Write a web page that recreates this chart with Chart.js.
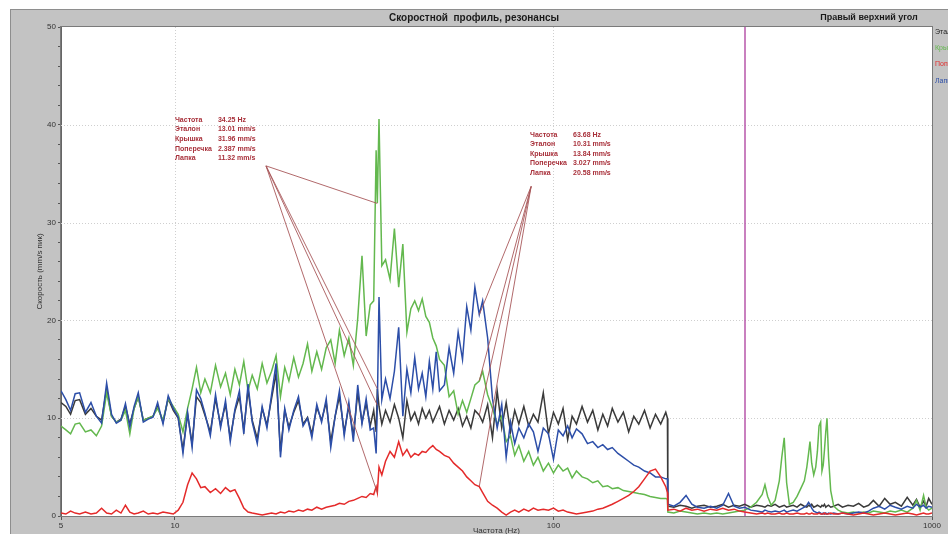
<!DOCTYPE html>
<html>
<head>
<meta charset="utf-8">
<script src="https://cdn.jsdelivr.net/npm/chart.js@4.4.0/dist/chart.umd.min.js"></script>
<style>
html, body { margin: 0; padding: 0; background: #fff; }
#wrap { width: 948px; height: 534px; }
</style>
</head>
<body>
<div id="wrap"><canvas id="chart" width="948" height="534"></canvas></div>
<script>
// Frequency grid (Hz), shared by all four series
const freqs = [
  5.0, 5.15, 5.3, 5.45, 5.6, 5.8, 6.0, 6.2, 6.4, 6.6,
  6.8, 7.0, 7.2, 7.4, 7.6, 7.8, 8.0, 8.25, 8.5, 8.75,
  9.0, 9.3, 9.6, 9.9, 10.2, 10.5, 10.8, 11.1, 11.4, 11.7,
  12.0, 12.4, 12.8, 13.2, 13.6, 14.0, 14.4, 14.8, 15.2, 15.6,
  16.0, 16.5, 17.0, 17.5, 18.0, 18.5, 19.0, 19.5, 20.0, 20.6,
  21.2, 21.8, 22.4, 23.0, 23.7, 24.4, 25.1, 25.8, 26.5, 27.2,
  28.0, 28.8, 29.6, 30.4, 31.2, 32.0, 32.8, 33.5, 34.0, 34.25,
  34.6, 35.2, 36.0, 37.0, 38.0, 39.0, 40.0, 41.0, 42.0, 43.0,
  44.0, 45.0, 46.0, 47.0, 48.0, 49.0, 50.0, 51.5, 53.0, 54.5,
  56.0, 57.5, 59.0, 60.5, 62.0, 63.68, 65.0, 67.0, 69.0, 71.0,
  73.0, 75.0, 77.0, 79.0, 81.0, 83.5, 86.0, 88.5, 91.0, 94.0,
  97.0, 100, 103, 106, 109, 112, 115, 119, 123, 127,
  131, 135, 139, 143, 148, 153, 158, 163, 168, 174,
  180, 186, 192, 198, 200, 200.5, 208, 216, 224, 232,
  240, 250, 260, 270, 280, 290, 300, 310, 320, 332,
  344, 356, 362, 368, 376, 385, 395, 401, 407, 413,
  420, 430, 440, 450, 460, 467, 472, 476, 481, 487,
  493, 498, 503, 508, 512, 516, 520, 524, 528, 533,
  540, 550, 565, 580, 600, 620, 640, 660, 680, 700,
  725, 750, 775, 800, 830, 860, 890, 910, 930, 950,
  965, 980, 1000
];

// Эталон (mm/s)
const etalon = [
  11.6, 11.2, 10.4, 11.8, 11.9, 10.4, 11.0, 10.2, 9.8, 13.0,
  10.2, 9.6, 9.9, 11.2, 9.4, 11.0, 12.2, 9.8, 10.0, 10.2,
  11.2, 9.6, 12.0, 10.8, 10.0, 6.8, 10.4, 7.4, 12.2, 11.6,
  10.3, 8.6, 12.0, 9.3, 11.4, 8.0, 10.7, 12.2, 8.8, 12.9,
  9.8, 7.9, 11.0, 9.3, 12.0, 14.6, 6.6, 10.8, 9.1, 10.6,
  11.8, 9.4, 10.1, 8.4, 11.1, 9.8, 11.6, 7.6, 10.2, 12.2,
  8.6, 11.2, 8.2, 12.6, 9.6, 11.5, 9.2, 10.8, 8.6, 13.0,
  11.2, 9.4, 10.8, 9.6, 11.4, 10.0, 8.0, 11.8, 9.8, 10.6,
  9.4, 11.0, 10.0, 10.8, 9.6, 10.4, 11.2, 9.4, 10.8, 9.8,
  11.0, 9.2, 10.2, 9.0, 10.8, 10.3, 9.6, 11.4, 8.0, 12.8,
  9.0, 11.6, 8.6, 10.8, 9.4, 11.2, 9.2, 10.4, 9.6, 12.6,
  8.4, 10.6, 9.4, 11.0, 7.8, 10.2, 9.4, 11.2, 9.6, 10.8,
  8.8, 10.4, 9.2, 11.0, 9.6, 10.6, 8.6, 10.2, 9.4, 10.8,
  9.0, 10.4, 9.4, 10.6, 10.0, 1.0, 0.9, 1.1, 1.0, 0.8,
  1.0, 1.1, 0.9, 1.0, 1.2, 0.9, 1.1, 1.0, 1.2, 0.9,
  1.1, 1.0, 0.9, 1.1, 1.0, 1.2, 0.9, 1.0, 1.1, 0.9,
  1.0, 1.1, 0.9, 1.2, 1.0, 0.9, 1.1, 1.0, 1.2, 0.9,
  1.0, 1.1, 1.0, 0.9, 1.1, 1.0, 1.2, 0.9, 1.0, 1.1,
  0.9, 1.0, 1.2, 0.9, 1.1, 1.0, 1.3, 0.9, 1.1, 1.6,
  1.0, 1.8, 1.2, 1.4, 1.0, 1.9, 1.1, 1.7, 0.9, 1.5,
  1.0, 1.8, 1.2
];

// Крышка (mm/s)
const kryshka = [
  9.2, 8.8, 8.4, 9.4, 9.5, 8.6, 8.8, 8.2, 9.2, 12.6,
  10.2, 9.6, 9.8, 10.8, 8.4, 11.0, 12.2, 9.8, 10.0, 10.2,
  11.0, 9.8, 12.0, 11.2, 10.4, 8.6, 11.0, 13.0, 15.2, 12.6,
  14.0, 12.6, 15.4, 13.2, 14.6, 12.4, 15.0, 13.4, 15.8, 12.8,
  14.4, 13.0, 15.6, 13.6, 14.8, 16.4, 12.2, 15.2, 13.8, 16.2,
  14.2, 15.6, 17.6, 14.8, 16.8, 15.0, 17.2, 18.0, 15.6, 19.0,
  16.4, 18.2, 15.4, 20.2, 26.6, 18.4, 21.6, 22.0, 37.4, 32.0,
  40.6, 25.6, 26.2, 24.2, 29.4, 23.4, 27.8, 18.8, 21.2, 22.0,
  21.0, 22.2, 20.4, 19.8, 18.2, 17.4, 16.0, 15.4, 12.2, 12.8,
  10.4, 11.8, 10.6, 12.0, 13.4, 13.8, 14.8, 12.4, 11.0, 9.4,
  10.2, 7.6, 8.2, 6.2, 7.2, 5.6, 6.6, 5.2, 6.0, 4.6,
  5.4, 4.4, 5.2, 4.6, 4.9, 3.9, 4.6, 4.0, 3.8, 3.4,
  3.6, 3.0, 3.1, 2.8, 2.9, 2.6, 2.5, 2.4, 2.3, 2.2,
  2.0, 1.9, 1.8, 1.8, 1.7, 0.4, 0.3, 0.5, 0.4, 0.3,
  0.2, 0.3, 0.2, 0.3, 0.2, 0.3, 0.4, 0.5, 0.6, 0.9,
  1.4, 2.2, 3.2, 2.0, 1.1, 1.6, 3.6, 6.0, 8.0, 3.4,
  1.2, 1.4, 2.0, 2.8, 3.6, 5.0, 6.4, 7.6, 5.4, 4.2,
  5.0, 6.6, 9.2, 9.6, 4.6, 5.2, 6.8, 8.6, 10.0, 6.0,
  2.6, 1.0, 0.6, 0.4, 0.3, 0.4, 0.3, 0.4, 0.3, 0.5,
  0.4, 0.3, 0.5, 0.4, 0.6, 0.4, 0.8, 1.6, 0.6, 2.1,
  0.9, 0.6, 0.8
];

// Поперечка (mm/s)
const poperechka = [
  0.3, 0.2, 0.5, 0.3, 0.2, 0.4, 0.2, 0.3, 0.8, 0.3,
  0.2, 0.6, 0.3, 1.1, 0.4, 0.2, 0.3, 0.5, 0.2, 0.3,
  0.2, 0.4, 0.3, 0.2, 0.6, 1.4, 3.2, 4.4, 3.8, 2.9,
  3.0, 2.4, 2.8, 2.3, 2.9, 2.5, 2.7, 1.8, 0.8, 0.4,
  0.3, 0.2, 0.1, 0.2, 0.3, 0.2, 0.4, 0.3, 0.5, 0.4,
  0.6, 0.5, 0.7, 0.6, 0.9, 0.7, 0.9, 1.0, 1.1, 1.3,
  1.2, 1.5, 1.6, 1.8, 2.0, 1.9, 2.3, 2.2, 3.0, 2.4,
  5.0, 4.2, 5.6, 6.6, 6.0, 7.6, 6.2, 6.8, 6.0, 6.4,
  6.2, 6.6, 6.5, 6.9, 7.2, 6.8, 6.6, 6.2, 6.0, 5.4,
  5.0, 4.6, 4.0, 3.6, 3.2, 3.0, 2.4, 1.5, 1.1, 0.8,
  0.4, 0.1, 0.4, 0.6, 0.4, 0.7, 0.5, 0.8, 0.6, 0.7,
  0.6, 0.8, 0.5, 0.6, 0.4, 0.3, 0.2, 0.3, 0.4, 0.5,
  0.7, 0.8, 1.0, 1.2, 1.5, 1.8, 2.1, 2.5, 3.0, 3.8,
  4.6, 4.8, 4.0, 3.0, 2.4, 0.6, 0.7, 0.5, 0.8, 0.6,
  0.7, 0.5, 0.7, 0.6, 0.8, 0.6, 0.7, 0.5, 0.4, 0.3,
  0.2, 0.3, 0.2, 0.3, 0.2, 0.2, 0.3, 0.2, 0.2, 0.3,
  0.2, 0.2, 0.3, 0.2, 0.2, 0.3, 0.2, 0.2, 0.3, 0.2,
  0.2, 0.2, 0.3, 0.2, 0.2, 0.2, 0.3, 0.2, 0.2, 0.2,
  0.3, 0.2, 0.2, 0.3, 0.2, 0.1, 0.2, 0.3, 0.2, 0.1,
  0.2, 0.3, 0.2, 0.1, 0.2, 0.3, 0.2, 0.1, 0.2, 0.3,
  0.2, 0.2, 0.3
];

// Лапка (mm/s)
const lapka = [
  12.8, 11.9, 10.8, 12.5, 12.6, 10.6, 11.6, 10.2, 9.5, 13.6,
  10.4, 9.5, 9.8, 11.5, 9.1, 11.2, 12.6, 9.6, 9.9, 10.1,
  11.6, 9.4, 12.3, 11.0, 10.1, 6.4, 10.6, 7.0, 12.9, 12.0,
  10.5, 8.2, 12.4, 9.0, 11.8, 7.6, 10.9, 12.8, 8.4, 13.5,
  9.6, 7.4, 11.2, 9.0, 12.4, 15.6, 6.0, 11.0, 8.8, 10.8,
  12.2, 9.2, 10.0, 8.0, 11.4, 9.6, 12.0, 7.0, 10.2, 12.8,
  8.2, 11.6, 7.6, 13.4, 9.4, 12.0, 8.8, 9.0, 6.4, 11.3,
  22.4, 11.9, 14.0, 12.0, 14.8, 19.3, 10.2, 15.0, 12.6, 16.2,
  13.0, 14.6, 12.2, 15.8, 13.0, 16.8, 12.8, 13.4, 17.2, 14.6,
  18.8, 16.0, 21.4, 19.0, 23.4, 20.6, 22.0, 18.2, 12.0, 9.0,
  11.4, 6.0, 9.6, 7.4, 9.0, 8.0, 9.4, 8.6, 6.6, 9.0,
  8.4, 5.8, 8.8, 8.2, 9.2, 8.0, 8.9, 8.4, 7.4, 7.6,
  7.0, 7.3, 6.8, 7.0, 6.4, 6.0, 5.6, 5.2, 5.0, 4.6,
  4.4, 4.0, 4.0, 3.8, 3.8, 1.2, 1.0, 1.4, 2.1, 1.2,
  0.9, 0.8, 1.0, 0.8, 1.1, 2.3, 1.0, 0.8, 0.9, 0.6,
  0.5, 0.4, 0.6, 0.5, 0.4, 0.5, 0.4, 0.5, 0.6, 0.4,
  0.5, 0.6, 0.5, 0.7, 0.9, 1.1, 1.4, 1.2, 0.8, 0.5,
  0.4, 0.3, 0.4, 0.3, 0.2, 0.3, 0.2, 0.3, 0.2, 0.3,
  0.2, 0.3, 0.2, 0.3, 0.2, 0.3, 0.4, 0.3, 0.5, 0.8,
  1.0, 0.7, 1.1, 0.9, 0.7, 1.0, 0.8, 1.2, 0.9, 1.1,
  0.8, 1.0, 0.9
];

const seriesNames = ['Эталон', 'Крышка', 'Поперечка', 'Лапка'];
const seriesColors = ['#3a3a3a', '#63b84e', '#e42a2a', '#2c4ea8'];
const xTickValues = [5, 10, 100, 1000];
const yTickValues = [0, 2, 4, 6, 8, 10, 12, 14, 16, 18, 20, 22, 24, 26, 28, 30, 32, 34, 36, 38, 40, 42, 44, 46, 48, 50];
const markerFreq = 320;

// cursor readouts
const cursor1Freq = 34.25;
const cursor1Values = [13.01, 31.96, 2.387, 11.32];
const cursor2Freq = 63.68;
const cursor2Values = [10.31, 13.84, 3.027, 20.58];

const FONT = '"Liberation Sans", Arial, sans-serif';

function drawCursor(chart, freq, values, boxX, boxY, origin) {
    const ctx = chart.ctx;
    const xs = chart.scales.x, ys = chart.scales.y;
    const ox = xs.getPixelForValue(origin[0]);
    const oy = ys.getPixelForValue(origin[1]);
    const px = xs.getPixelForValue(freq);

    ctx.save();
    ctx.strokeStyle = '#a8585a';
    ctx.lineWidth = 0.9;
    values.forEach(v => {
        ctx.beginPath();
        ctx.moveTo(ox, oy);
        ctx.lineTo(px, ys.getPixelForValue(v));
        ctx.stroke();
    });

    const bx = xs.getPixelForValue(boxX);
    const by = ys.getPixelForValue(boxY);
    ctx.fillStyle = '#a8303a';
    ctx.font = 'bold 7px ' + FONT;
    ctx.textBaseline = 'middle';
    const labels = ['Частота'].concat(seriesNames);
    const texts = [freq.toFixed(2) + ' Hz'].concat(values.map(v => v.toPrecision(4) + ' mm/s'));
    labels.forEach((l, i) => {
        const y = by + i * 9.6;
        ctx.fillText(l, bx, y);
        ctx.fillText(texts[i], bx + 43, y);
    });
    ctx.restore();
}

const decorPlugin = {
    id: 'decor',
    beforeDraw(chart) {
        const { ctx, chartArea: a } = chart;
        ctx.save();
        ctx.fillStyle = '#ffffff';
        ctx.fillRect(0, 0, chart.width, chart.height);
        ctx.fillStyle = '#c3c3c3';
        ctx.fillRect(10, 9, chart.width - 10, chart.height - 9);
        ctx.strokeStyle = '#8e8e8e';
        ctx.lineWidth = 1;
        ctx.strokeRect(10.5, 9.5, chart.width - 10, chart.height - 9);
        ctx.fillStyle = '#ffffff';
        ctx.fillRect(a.left, a.top, a.right - a.left, a.bottom - a.top);
        ctx.restore();
    },
    beforeDatasetsDraw(chart) {
        const { ctx, chartArea: a } = chart;
        const xs = chart.scales.x, ys = chart.scales.y;
        ctx.save();
        ctx.strokeStyle = '#cfcfcf';
        ctx.lineWidth = 1;
        ctx.setLineDash([1, 2]);
        [10, 100].forEach(v => {
            const x = Math.round(xs.getPixelForValue(v)) + 0.5;
            ctx.beginPath(); ctx.moveTo(x, a.top); ctx.lineTo(x, a.bottom); ctx.stroke();
        });
        [10, 20, 30, 40].forEach(v => {
            const y = Math.round(ys.getPixelForValue(v)) + 0.5;
            ctx.beginPath(); ctx.moveTo(a.left, y); ctx.lineTo(a.right, y); ctx.stroke();
        });
        ctx.setLineDash([]);
        // marker line
        const mx = Math.round(xs.getPixelForValue(markerFreq));
        ctx.strokeStyle = '#b24aa4';
        ctx.lineWidth = 1.4;
        ctx.beginPath(); ctx.moveTo(mx, a.top); ctx.lineTo(mx, a.bottom); ctx.stroke();
        ctx.restore();
    },
    afterDatasetsDraw(chart) {
        const { ctx, chartArea: a } = chart;
        drawCursor(chart, cursor1Freq, cursor1Values, 10, 40.5, [17.4, 35.8]);
        drawCursor(chart, cursor2Freq, cursor2Values, 86.7, 39.0, [87.3, 33.7]);
        ctx.save();
        ctx.strokeStyle = '#7a7a7a';
        ctx.lineWidth = 1;
        ctx.strokeRect(a.left - 0.5, a.top - 0.5, a.right - a.left + 1, a.bottom - a.top + 1);
        ctx.restore();
    },
    afterDraw(chart) {
        const { ctx, chartArea: a } = chart;
        ctx.save();
        ctx.fillStyle = '#1a1a1a';
        ctx.textBaseline = 'middle';
        ctx.font = 'bold 10px ' + FONT;
        ctx.textAlign = 'center';
        ctx.fillText('Скоростной  профиль, резонансы', 474, 18);
        ctx.font = 'bold 9px ' + FONT;
        ctx.fillText('Правый верхний угол', 869, 18);

        ctx.font = '8px ' + FONT;
        ctx.fillStyle = '#333';
        ctx.fillText('Частота (Hz)', (a.left + a.right) / 2, 531);
        ctx.save();
        ctx.translate(40, (a.top + a.bottom) / 2);
        ctx.rotate(-Math.PI / 2);
        ctx.fillText('Скорость (mm/s пик)', 0, 0);
        ctx.restore();

        // side legend (cut off by the window edge)
        ctx.textAlign = 'left';
        ctx.font = '7px ' + FONT;
        const legendY = [32, 48, 64, 81];
        const legendColors = ['#222', seriesColors[1], seriesColors[2], seriesColors[3]];
        seriesNames.forEach((n, i) => {
            ctx.fillStyle = legendColors[i];
            ctx.fillText(n, 935, legendY[i]);
        });
        ctx.restore();
    }
};

const seriesData = [etalon, kryshka, poperechka, lapka];
const drawOrder = [3, 2, 0, 1];

new Chart(document.getElementById('chart'), {
    type: 'line',
    data: {
        datasets: seriesData.map((vals, i) => ({
            label: seriesNames[i],
            data: freqs.map((f, j) => ({ x: f, y: vals[j] })),
            borderColor: seriesColors[i],
            borderWidth: 1.5,
            pointRadius: 0,
            tension: 0,
            fill: false,
            order: drawOrder[i]
        }))
    },
    options: {
        responsive: false,
        animation: false,
        devicePixelRatio: 1,
        layout: { padding: { top: 27, right: 16, bottom: 0, left: 0 } },
        plugins: {
            legend: { display: false },
            tooltip: { enabled: false }
        },
        scales: {
            x: {
                type: 'logarithmic',
                min: 5,
                max: 1000,
                afterBuildTicks(scale) {
                    scale.ticks = xTickValues.map(v => ({ value: v }));
                },
                afterFit(scale) { scale.height = 18; },
                ticks: {
                    autoSkip: false,
                    maxRotation: 0,
                    padding: 1,
                    color: '#333',
                    font: { family: FONT, size: 8 },
                    callback: v => String(v)
                },
                grid: { drawOnChartArea: false, drawTicks: true, tickLength: 4, tickColor: '#555' },
                border: { display: true, color: '#666' }
            },
            y: {
                min: 0,
                max: 50,
                afterBuildTicks(scale) {
                    scale.ticks = yTickValues.map(v => ({ value: v }));
                },
                afterFit(scale) { scale.width = 61; },
                ticks: {
                    autoSkip: false,
                    padding: 2,
                    color: '#333',
                    font: { family: FONT, size: 8 },
                    callback: v => (v % 10 === 0 ? String(v) : '')
                },
                grid: {
                    drawOnChartArea: false,
                    drawTicks: true,
                    tickLength: ctx => (ctx.tick && ctx.tick.value % 10 === 0 ? 5 : 3),
                    tickColor: '#555'
                },
                border: { display: true, color: '#666' }
            }
        }
    },
    plugins: [decorPlugin]
});
</script>
</body>
</html>
